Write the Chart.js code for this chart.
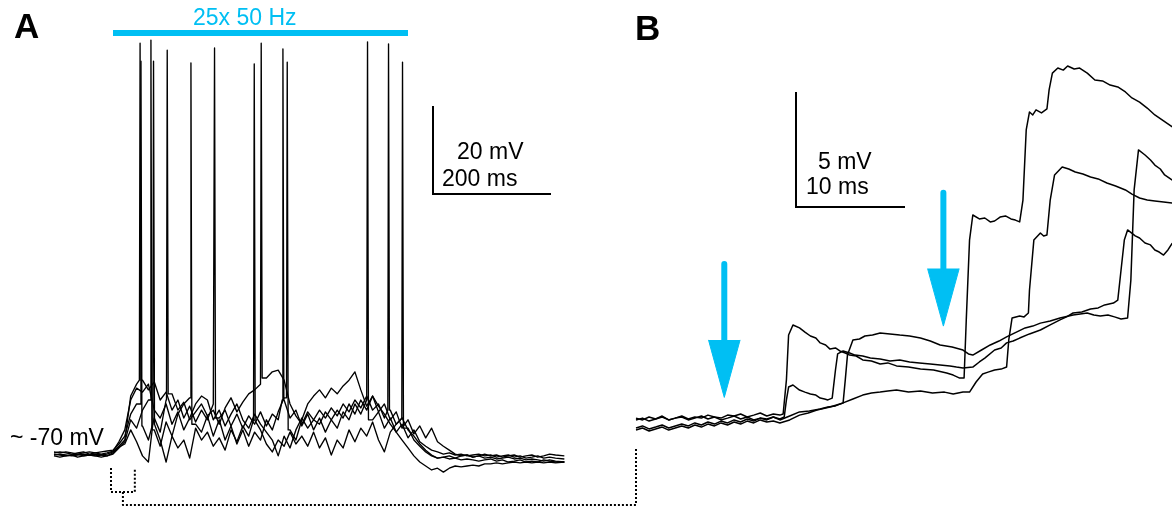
<!DOCTYPE html>
<html>
<head>
<meta charset="utf-8">
<script src="https://cdn.jsdelivr.net/npm/chart.js@4.4.0/dist/chart.umd.min.js"></script>
<style>
  body { margin: 0; background: #fff; }
  #wrap { position: relative; width: 1172px; height: 507px; font-family: "Liberation Sans", Arial, sans-serif; }
  #wrap canvas { position: absolute; left: 0; top: 0; }
  .lbl { position: absolute; font-size: 23px; line-height: 23px; white-space: nowrap; color: #000; }
  .panel { font-size: 35px; line-height: 35px; font-weight: bold; }
  .blue { color: #00bff3; }
</style>
</head>
<body>
<div id="wrap">
  <canvas id="fig" width="1172" height="507"></canvas>
  <div class="lbl panel" style="left:14px;top:8px">A</div>
  <div class="lbl panel" style="left:635px;top:10px">B</div>
  <div class="lbl blue" style="left:193px;top:6px">25x 50 Hz</div>
  <div class="lbl" style="left:457px;top:140px">20 mV</div>
  <div class="lbl" style="left:442px;top:167px">200 ms</div>
  <div class="lbl" style="left:10px;top:426px">~ -70 mV</div>
  <div class="lbl" style="left:818px;top:150px">5 mV</div>
  <div class="lbl" style="left:806px;top:175px">10 ms</div>
</div>
<script>
// Panel A: sample times (ms, stimulus onset = 0) and membrane potential of five sweeps (mV)
const timesA = [-100, -90, -80, -70, -60, -50, -40, -30, -20, -10,
  0, 10, 20, 30, 40, 50, 60, 70, 80, 90,
  100, 110, 120, 130, 140, 150, 160, 170, 180, 190,
  200, 210, 220, 230, 240, 250, 260, 270, 280, 290,
  300, 310, 320, 330, 340, 350, 360, 370, 380, 390,
  400, 410, 420, 430, 440, 450, 460, 470, 480, 490,
  500, 510, 520, 530, 540, 550, 560, 570, 580, 590,
  600, 610, 620, 630, 640, 650, 660, 670, 680, 690,
  700, 710, 720, 730, 740, 750, 765];

const traceA1Mv = [-70.0, -69.8, -70.0, -70.2, -70.0, -69.8, -70.0, -70.2, -70.0, -69.8,
  -69.3, -68.0, -66.6, -56.6, -53.9, -53.0, -55.2, -53.4, -57.5, -55.7,
  -59.8, -57.5, -61.6, -58.9, -62.5, -59.8, -62.0, -58.4, -61.6, -59.8,
  -63.4, -60.7, -63.9, -61.1, -63.0, -60.2, -63.4, -60.7, -62.0, -57.5,
  -61.6, -59.8, -63.4, -60.7, -64.3, -61.6, -64.8, -62.0, -63.9, -60.2,
  -62.0, -58.4, -60.7, -57.5, -62.0, -60.2, -63.9, -61.6, -64.8, -63.0,
  -66.1, -64.3, -67.0, -68.0, -68.9, -69.3, -69.8, -69.5, -70.0, -69.8,
  -70.2, -70.0, -69.8, -70.2, -70.0, -70.5, -70.2, -70.0, -70.5, -70.2,
  -70.7, -70.5, -70.2, -70.7, -70.5, -70.7, -70.9];

const traceA2Mv = [-69.5, -69.3, -69.5, -69.8, -69.5, -69.3, -69.8, -69.5, -69.3, -69.1,
  -68.9, -67.5, -65.7, -60.7, -58.4, -63.4, -66.6, -61.6, -64.8, -57.5,
  -56.1, -59.8, -58.0, -62.0, -60.2, -58.4, -61.1, -59.8, -63.0, -59.3,
  -57.0, -60.2, -58.0, -56.1, -55.2, -53.9, -52.5, -51.1, -50.7, -53.0,
  -58.4, -61.1, -63.0, -60.2, -62.0, -59.8, -61.6, -59.3, -61.1, -58.4,
  -60.2, -57.5, -59.3, -56.6, -59.8, -58.4, -61.6, -59.8, -63.0, -61.6,
  -64.3, -65.7, -67.5, -68.9, -70.0, -70.7, -70.5, -70.2, -70.7, -70.2,
  -70.0, -70.5, -70.2, -69.8, -70.2, -70.0, -70.5, -70.2, -70.0, -70.5,
  -70.2, -70.0, -70.5, -70.2, -69.8, -70.0, -70.2];

const traceA3Mv = [-70.2, -70.5, -70.2, -70.0, -70.5, -70.2, -70.0, -70.2, -70.5, -70.2,
  -69.8, -68.4, -67.0, -62.0, -63.9, -59.8, -57.5, -64.3, -68.0, -62.5,
  -65.7, -60.7, -58.4, -57.0, -63.0, -64.8, -61.1, -65.7, -62.0, -66.6,
  -63.4, -67.5, -64.3, -68.0, -64.8, -66.6, -62.0, -64.3, -60.2, -57.0,
  -64.3, -66.6, -62.0, -58.4, -56.6, -55.2, -57.0, -54.8, -56.1, -54.3,
  -53.0, -51.1, -55.2, -58.9, -56.6, -60.2, -58.4, -62.0, -60.2, -63.9,
  -62.0, -65.2, -63.4, -66.1, -63.9, -67.0, -68.0, -68.9, -69.8, -70.2,
  -70.0, -70.5, -70.2, -70.7, -70.5, -70.9, -70.7, -70.5, -70.9, -70.7,
  -71.1, -70.9, -71.1, -71.4, -71.1, -71.4, -71.6];

const traceA4Mv = [-69.8, -70.0, -70.2, -70.0, -69.8, -70.2, -70.0, -69.8, -70.0, -70.2,
  -69.5, -68.2, -67.5, -64.3, -67.0, -70.2, -71.6, -63.0, -66.6, -71.6,
  -65.7, -68.4, -66.6, -70.7, -63.9, -66.6, -64.8, -68.0, -66.1, -68.9,
  -64.3, -67.0, -63.4, -65.7, -62.0, -64.3, -67.5, -69.3, -66.6, -68.0,
  -64.8, -67.5, -65.7, -68.0, -64.8, -68.4, -66.1, -70.0, -66.6, -68.4,
  -64.3, -67.0, -63.9, -65.7, -62.5, -66.6, -69.3, -64.8, -63.0, -61.6,
  -63.9, -66.6, -68.0, -69.3, -70.2, -70.7, -70.5, -70.9, -70.7, -71.1,
  -70.9, -71.1, -71.4, -71.1, -70.9, -71.4, -71.1, -71.6, -71.4, -71.1,
  -71.6, -71.4, -71.6, -71.1, -71.4, -71.6, -71.6];

const traceA5Mv = [-69.3, -69.5, -69.3, -69.5, -69.8, -69.5, -69.3, -69.5, -69.8, -69.5,
  -69.1, -67.0, -64.3, -57.5, -54.8, -55.7, -53.9, -59.8, -61.6, -58.4,
  -63.0, -60.2, -64.3, -61.6, -58.4, -56.6, -57.5, -62.0, -59.8, -63.4,
  -60.7, -58.4, -62.0, -63.9, -60.7, -63.0, -64.8, -66.6, -70.2, -65.7,
  -68.4, -64.3, -61.6, -63.9, -62.0, -63.0, -60.2, -62.0, -59.8, -61.6,
  -58.4, -60.7, -57.5, -59.8, -56.6, -58.9, -60.7, -63.0, -64.8, -66.6,
  -68.4, -70.2, -71.6, -72.5, -73.4, -73.0, -73.9, -73.0, -72.5, -72.7,
  -72.5, -72.3, -72.5, -72.0, -72.0, -71.8, -72.0, -71.8, -71.6, -71.8,
  -71.6, -71.8, -71.6, -71.8, -71.6, -71.8, -71.6];

// action potentials per sweep: time (ms) and peak (mV)
const spikeTimesA1 = [45.5, 171.7, 287.6, 431.0];
const spikePeaksA1 = [23.6, 22.5, 22.3, 23.9];
const spikeTimesA2 = [47.0, 91.5, 250.8, 466.6];
const spikePeaksA2 = [19.5, 22.0, 23.6, 23.4];
const spikeTimesA3 = [63.9, 131.7, 294.9];
const spikePeaksA3 = [24.3, 19.1, 19.3];
const spikeTimesA4 = [68.3, 239.0, 490.3];
const spikePeaksA4 = [19.5, 18.9, 19.3];
const spikeTimesA5 = [];
const spikePeaksA5 = [];

const stimTrainMs = [0, 500];      // 25 pulses at 50 Hz
const zoomWindowMs = [-3.4, 37];   // part of A shown in B

// Panel B: four sweeps, time (ms) and depolarisation from rest (mV)
const bTrace1Ms = [0, 0.6, 1.2, 1.8, 2.4, 3.0, 3.6, 4.2, 4.8, 5.4, 6.0, 6.6, 7.2, 7.8, 8.4, 9.0, 9.6, 10.2, 10.8, 11.4, 12.0, 12.6, 13.2, 13.5,
  13.8, 14.0, 14.4,
  15.0, 15.5, 16.0, 16.5, 16.9, 17.4, 17.8, 18.3, 18.7, 19.2, 19.6, 20.2, 20.8, 21.6, 22.4, 23.1, 23.9, 25.0, 26.1, 27.3, 28.5, 29.1, 29.7, 30.1,
  30.3, 30.6,
  30.9, 31.5, 32.0, 32.5, 32.9, 33.4, 33.9, 34.4, 34.8, 35.2,
  35.5, 35.8,
  36.1, 36.4, 36.7, 37.2, 37.7, 37.9, 38.2, 38.7, 39.2, 39.6, 40.2, 40.7, 41.4, 42.1, 42.8, 43.5, 44.2, 44.9, 45.5, 46.2, 46.9, 47.6, 48.4, 49.2];
const bTrace1Mv = [0.22, 0.30, 0.17, 0.26, 0.35, 0.22, 0.30, 0.39, 0.26, 0.35, 0.30, 0.43, 0.35, 0.30, 0.43, 0.39, 0.48, 0.35, 0.43, 0.52, 0.39, 0.48, 0.43, 0.48,
  1.96, 3.91, 4.35,
  4.22, 4.04, 3.87, 3.78, 3.57, 3.48, 3.30, 3.35, 3.22, 3.13, 3.04, 3.00, 2.83, 2.78, 2.65, 2.70, 2.57, 2.52, 2.43, 2.39, 2.26, 2.17, 2.04, 2.04,
  4.57, 8.04,
  9.13, 8.96, 9.00, 8.83, 8.87, 9.04, 9.09, 8.96, 8.91, 8.83,
  9.78, 12.83,
  13.61, 13.48, 13.70, 13.57, 13.74, 14.57, 15.30, 15.52, 15.43, 15.61, 15.48, 15.52, 15.30, 15.00, 14.96, 14.78, 14.70, 14.48, 14.22, 14.04, 13.78, 13.48, 13.22, 12.96];

const bTrace2Ms = [0, 0.6, 1.2, 1.8, 2.4, 3.0, 3.6, 4.2, 4.8, 5.4, 6.0, 6.6, 7.2, 7.8, 8.4, 9.0, 9.6, 10.2, 10.8, 11.4, 12.0, 12.6, 13.2, 13.6,
  13.8, 14.0, 14.4,
  15.0, 15.5, 16.0, 16.5, 16.9, 17.3, 17.6, 18.0,
  18.3, 18.5,
  19.0, 19.6, 20.1, 20.8, 21.5, 22.4, 23.3, 24.2, 25.1, 26.0, 27.0, 27.9, 28.8, 29.4, 30.0, 30.9, 31.5, 32.0, 32.9, 33.5,
  34.0, 34.6, 35.2, 36.1, 37.1, 38.0, 38.9, 39.5, 40.1, 40.9, 41.7, 42.4, 43.0, 43.8, 44.2,
  44.5, 44.8, 45.1, 45.8, 46.2, 46.7, 47.2, 47.6, 48.0, 48.4, 48.8, 49.2];
const bTrace2Mv = [-0.13, -0.04, -0.17, -0.09, 0, -0.13, -0.04, 0.04, -0.04, 0.09, 0, 0.13, 0.04, 0.17, 0.09, 0.22, 0.13, 0.26, 0.17, 0.30, 0.22, 0.35, 0.26, 0.35,
  1.09, 1.65, 1.74,
  1.52, 1.43, 1.35, 1.30, 1.17, 1.13, 1.09, 1.17,
  2.39, 3.09,
  3.22, 3.13, 3.04, 3.00, 2.91, 2.87, 2.78, 2.83, 2.74, 2.70, 2.65, 2.61, 2.57, 2.52, 2.48, 2.52, 2.74, 2.91, 3.26, 3.35,
  3.57, 3.65, 3.78, 3.96, 4.13, 4.35, 4.57, 4.70, 4.87, 4.91, 5.04, 5.09, 5.22, 5.30, 5.43,
  6.74, 8.04, 8.48, 8.22, 8.13, 7.91, 7.83, 7.61, 7.52, 7.39, 7.61, 7.91];

const bTrace3Ms = [0, 0.6, 1.2, 1.8, 2.4, 3.0, 3.6, 4.2, 4.8, 5.4, 6.0, 6.6, 7.2, 7.8, 8.4, 9.0, 9.6, 10.2, 10.8, 11.4, 12.0, 12.6, 13.2,
  14.1, 15.0, 15.9, 16.9, 17.6, 18.3, 19.0,
  19.2, 19.4,
  19.9, 20.5, 21.0, 21.7, 22.4, 23.3, 24.2, 25.1, 26.1, 27.0, 27.9, 29.0, 30.0, 30.5, 30.9, 31.7, 32.5, 33.3, 34.0, 34.9,
  35.7, 36.4, 37.1, 38.0, 38.9, 40.1, 41.4, 42.0, 42.6, 43.3, 43.9, 44.5, 45.1,
  45.4, 45.7,
  46.1, 46.7, 47.2, 47.6, 48.1, 48.5, 49.2];
const bTrace3Mv = [0.30, 0.22, 0.35, 0.26, 0.39, 0.22, 0.30, 0.35, 0.22, 0.30, 0.39, 0.26, 0.35, 0.22, 0.30, 0.39, 0.26, 0.35, 0.22, 0.30, 0.26, 0.35, 0.22,
  0.39, 0.57, 0.61, 0.70, 0.78, 0.83, 0.96,
  1.96, 3.04,
  3.70, 3.74, 3.87, 3.91, 4.00, 3.96, 3.91, 3.87, 3.78, 3.65, 3.48, 3.39, 3.26, 3.09, 3.04, 3.26, 3.48, 3.65, 3.83, 4.04,
  4.22, 4.30, 4.43, 4.52, 4.65, 4.78, 4.87, 4.78, 4.74, 4.78, 4.70, 4.61, 4.65,
  6.30, 10.22,
  11.96, 11.74, 11.52, 11.30, 11.13, 10.87, 10.65];

const bTrace4Ms = [0, 0.6, 1.2, 1.8, 2.4, 3.0, 3.6, 4.2, 4.8, 5.4, 6.0, 6.6, 7.2, 7.8, 8.4, 9.0, 9.6, 10.2, 10.8, 11.4, 12.0, 12.6, 13.2,
  14.1, 15.0, 15.8, 16.6, 17.8, 19.0, 19.9, 20.8, 21.6, 22.4, 23.1, 23.9, 25.0, 26.1, 27.2, 28.3, 29.1, 30.0, 30.6, 31.2, 31.8, 32.3, 32.9, 33.5, 34.0,
  34.2, 34.5,
  35.2, 35.6, 36.0,
  36.1, 36.5,
  37.1, 37.4, 37.7,
  38.0, 38.4,
  39.1, 39.7, 40.3, 41.0, 41.7, 42.4, 43.2, 44.0, 44.9, 45.5, 46.2, 46.9, 47.6, 48.4, 49.2];
const bTrace4Mv = [-0.22, -0.13, -0.26, -0.17, -0.09, -0.22, -0.13, -0.04, -0.13, 0, -0.09, 0.04, -0.04, 0.09, 0, 0.13, 0.04, 0.17, 0.09, 0.22, 0.13, 0.17, 0.09,
  0.22, 0.43, 0.52, 0.65, 0.78, 0.96, 1.13, 1.30, 1.39, 1.43, 1.48, 1.52, 1.43, 1.48, 1.39, 1.43, 1.35, 1.43, 1.43, 1.87, 2.22, 2.30, 2.39, 2.43, 2.52,
  3.70, 4.65,
  4.74, 4.70, 4.87,
  5.87, 8.04,
  8.35, 8.22, 8.26,
  9.78, 10.87,
  11.22, 11.13, 11.00, 10.91, 10.78, 10.70, 10.52, 10.39, 10.22, 10.04, 9.87, 9.78, 9.74, 9.70, 9.65];

// stimulus arrows in B: pulse time (ms) and arrow tip (mV)
const stimTimesB = [8.1, 28.2];
const arrowTipMv = [1.2, 4.3];

// scale bars
const scaleBarA = { ms: 200, mv: 20 };
const scaleBarB = { ms: 10, mv: 5 };

// ---- layout of the figure on the canvas (pixels) ----
const W = 1172, H = 507;
const A_PX = { x0: 113, pxPerMs: 0.59, y0: 455, restMv: -70, pxPerMv: 4.4 };
const B_PX = { x0: 636, pxPerMs: 10.9, y0: 425, pxPerMv: 23 };

const BLUE = "#00bff3";

function pts(xs, ys) {
  return xs.map((x, i) => ({ x: x, y: ys[i] }));
}

// merge spikes into a sweep
function withSpikes(times, values, spikeTimes, spikePeaks) {
  const out = [];
  for (let i = 0; i < times.length; i++) {
    out.push({ x: times[i], y: values[i] });
    spikeTimes.forEach((ts, j) => {
      if (ts > times[i] && i + 1 < times.length && ts <= times[i + 1]) {
        const base = Math.max(values[i], values[i + 1]);
        out.push({ x: ts - 0.8, y: base }, { x: ts + 0.4, y: spikePeaks[j] }, { x: ts + 2, y: values[i + 1] });
      }
    });
  }
  return out;
}

function line(data, axes, extra) {
  return Object.assign({
    data: data,
    xAxisID: axes === "A" ? "xA" : "xB",
    yAxisID: axes === "A" ? "yA" : "yB",
    showLine: true,
    pointRadius: 0,
    borderColor: "#000",
    borderWidth: 1.35,
    tension: 0,
    fill: false,
    borderJoinStyle: "round"
  }, extra || {});
}

const datasets = [];

// Panel A sweeps
const sweepsA = [
  [traceA1Mv, spikeTimesA1, spikePeaksA1],
  [traceA2Mv, spikeTimesA2, spikePeaksA2],
  [traceA3Mv, spikeTimesA3, spikePeaksA3],
  [traceA4Mv, spikeTimesA4, spikePeaksA4],
  [traceA5Mv, spikeTimesA5, spikePeaksA5]
];
sweepsA.forEach(s => datasets.push(line(withSpikes(timesA, s[0], s[1], s[2]), "A")));

// stimulus bar
const stimBarMv = A_PX.restMv + (A_PX.y0 - 33) / A_PX.pxPerMv;
datasets.push(line(pts(stimTrainMs, [stimBarMv, stimBarMv]), "A", { borderColor: BLUE, borderWidth: 6, borderCapStyle: "butt" }));

// scale bar A
const sbAx = (433 - A_PX.x0) / A_PX.pxPerMs;
const sbAy = A_PX.restMv + (A_PX.y0 - 194) / A_PX.pxPerMv;
datasets.push(line([
  { x: sbAx, y: sbAy + scaleBarA.mv }, { x: sbAx, y: sbAy }, { x: sbAx + scaleBarA.ms, y: sbAy }
], "A", { borderWidth: 2, borderJoinStyle: "miter" }));

// dotted bracket and connector to B
const mvAt = py => A_PX.restMv + (A_PX.y0 - py) / A_PX.pxPerMv;
const bracketTop = mvAt(468), bracketBottom = mvAt(492), connectorY = mvAt(505);
const bStartInA = (B_PX.x0 - A_PX.x0) / A_PX.pxPerMs;
const bracketMid = (zoomWindowMs[0] + zoomWindowMs[1]) / 2;
const dotted = { borderWidth: 2, borderDash: [2, 2], borderCapStyle: "butt" };
datasets.push(line([
  { x: zoomWindowMs[0], y: bracketTop }, { x: zoomWindowMs[0], y: bracketBottom },
  { x: zoomWindowMs[1], y: bracketBottom }, { x: zoomWindowMs[1], y: bracketTop }
], "A", dotted));
datasets.push(line([
  { x: bracketMid, y: bracketBottom }, { x: bracketMid, y: connectorY },
  { x: bStartInA, y: connectorY }, { x: bStartInA, y: mvAt(447) }
], "A", dotted));

// Panel B sweeps
[[bTrace1Ms, bTrace1Mv], [bTrace2Ms, bTrace2Mv], [bTrace3Ms, bTrace3Mv], [bTrace4Ms, bTrace4Mv]]
  .forEach(s => datasets.push(line(pts(s[0], s[1]), "B", { borderWidth: 1.5 })));

// arrows
const headLenMv = 2.5, shaftLenMv = 3.3, headHalfMs = 1.45;
stimTimesB.forEach((t, i) => {
  const tip = arrowTipMv[i];
  const base = tip + headLenMv;
  datasets.push(line([{ x: t, y: base + shaftLenMv }, { x: t, y: base - 0.05 }], "B",
    { borderColor: BLUE, borderWidth: 6, borderCapStyle: "butt" }));
  datasets.push(line([{ x: t - headHalfMs, y: base }, { x: t, y: tip }, { x: t + headHalfMs, y: base }], "B",
    { borderColor: BLUE, backgroundColor: BLUE, borderWidth: 1, fill: { value: base } }));
});

// scale bar B
const sbBx = (796 - B_PX.x0) / B_PX.pxPerMs;
const sbBy = (B_PX.y0 - 207) / B_PX.pxPerMv;
datasets.push(line([
  { x: sbBx, y: sbBy + scaleBarB.mv }, { x: sbBx, y: sbBy }, { x: sbBx + scaleBarB.ms, y: sbBy }
], "B", { borderWidth: 2, borderJoinStyle: "miter" }));

const hidden = { display: false, bounds: "data" };
new Chart(document.getElementById("fig"), {
  type: "scatter",
  data: { datasets: datasets },
  options: {
    responsive: false,
    animation: false,
    events: [],
    layout: { padding: 0 },
    plugins: { legend: { display: false }, tooltip: { enabled: false } },
    scales: {
      x: { display: false },
      y: { display: false },
      xA: Object.assign({ type: "linear", axis: "x", min: -A_PX.x0 / A_PX.pxPerMs, max: (W - A_PX.x0) / A_PX.pxPerMs }, hidden),
      yA: Object.assign({ type: "linear", axis: "y", min: A_PX.restMv - (H - A_PX.y0) / A_PX.pxPerMv, max: A_PX.restMv + A_PX.y0 / A_PX.pxPerMv }, hidden),
      xB: Object.assign({ type: "linear", axis: "x", min: -B_PX.x0 / B_PX.pxPerMs, max: (W - B_PX.x0) / B_PX.pxPerMs }, hidden),
      yB: Object.assign({ type: "linear", axis: "y", min: -(H - B_PX.y0) / B_PX.pxPerMv, max: B_PX.y0 / B_PX.pxPerMv }, hidden)
    }
  }
});
</script>
</body>
</html>
